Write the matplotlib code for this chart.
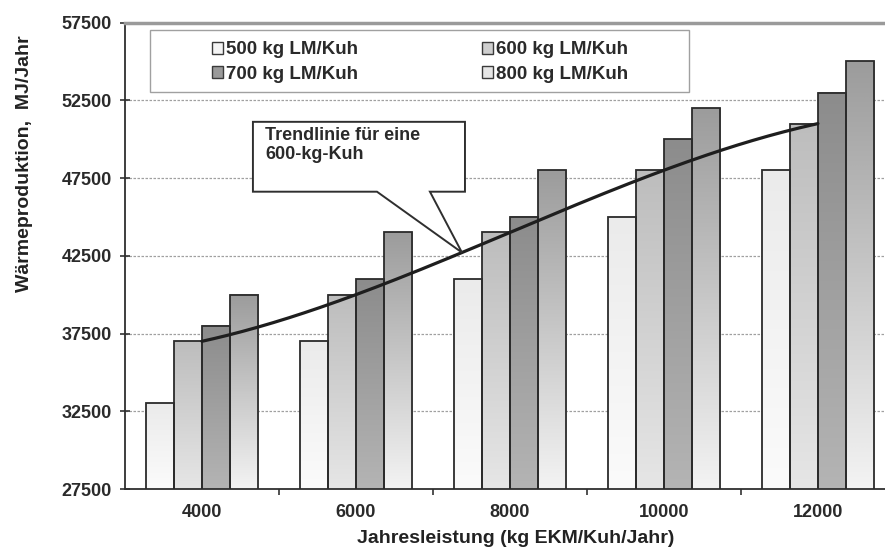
import numpy as np
import matplotlib
matplotlib.use("Agg")
import matplotlib.pyplot as plt
from matplotlib.colors import LinearSegmentedColormap
from matplotlib.patches import Patch, Rectangle, Polygon

plt.rcParams["font.family"] = ["Liberation Sans", "DejaVu Sans"]
plt.rcParams["font.weight"] = "bold"
plt.rcParams["axes.labelweight"] = "bold"

# Jahresleistung (kg EKM/Kuh/Jahr)
leistung = [4000, 6000, 8000, 10000, 12000]
# Wärmeproduktion in MJ/Jahr je Lebendmasse
lm500 = [33000, 37000, 41000, 45000, 48000]
lm600 = [37000, 40000, 44000, 48000, 51000]
lm700 = [38000, 41000, 45000, 50000, 53000]
lm800 = [40000, 44000, 48000, 52000, 55000]
series_labels = ["500 kg LM/Kuh", "600 kg LM/Kuh", "700 kg LM/Kuh", "800 kg LM/Kuh"]
y_ticks = [27500, 32500, 37500, 42500, 47500, 52500, 57500]

# gradient fill (top, bottom) and legend swatch colour per series
fills = [("#ebebeb", "#fbfbfb"), ("#bdbdbd", "#e6e6e6"),
         ("#8c8c8c", "#b4b4b4"), ("#9c9c9c", "#f3f3f3")]
swatch = ["#f4f4f4", "#cfcfcf", "#9a9a9a", "#e6e6e6"]

fig = plt.figure(figsize=(8.85, 5.51), dpi=100)
# plot area runs a little past the right edge of the figure
ax = fig.add_axes([0.1412, 0.1125, 0.870, 0.8466])

ymin, ymax = 27500, 57500
width = 364
offsets = [-1.5, -0.5, 0.5, 1.5]
grad = np.linspace(0, 1, 128).reshape(-1, 1)

for k, vals in enumerate([lm500, lm600, lm700, lm800]):
    cmap = LinearSegmentedColormap.from_list("f%d" % k, list(fills[k]))
    for x, v in zip(leistung, vals):
        x0 = x + offsets[k] * width - width / 2
        ax.imshow(grad, extent=[x0, x0 + width, ymin, v], origin="upper",
                  cmap=cmap, aspect="auto", interpolation="bilinear", zorder=2)
    ax.bar([x + offsets[k] * width for x in leistung], vals, width=width,
           fill=False, edgecolor="#2b2b2b", linewidth=1.3, zorder=3)

# polynomial trend line through the 600 kg series
coef = np.polyfit(leistung, lm600, 3)
xt = np.linspace(leistung[0], leistung[-1], 200)
ax.plot(xt, np.polyval(coef, xt), color="#1e1e1e", linewidth=2.3, zorder=4,
        solid_capstyle="round")

ax.set_xlim(3000, 13000)
ax.set_ylim(ymin, ymax)
ax.set_yticks(y_ticks)
ax.set_xticks(leistung)
ax.set_xticks([5000, 7000, 9000, 11000], minor=True)
ax.tick_params(axis="x", which="major", length=0, pad=11, labelsize=13,
               labelcolor="#2a2a2a")
ax.tick_params(axis="x", which="minor", length=4.5, width=1.2, direction="out",
               color="#333333")
ax.tick_params(axis="y", length=7, width=1.2, direction="inout", pad=6,
               labelsize=13, labelcolor="#2a2a2a", color="#333333")

for y in y_ticks[1:-1]:
    ax.axhline(y, color="#a0a0a0", linewidth=0.9, linestyle=(0, (2, 1.2)), zorder=1)

ax.spines["right"].set_visible(False)
ax.spines["top"].set_color("#9a9a9a")
ax.spines["top"].set_linewidth(2.5)
for s in ("left", "bottom"):
    ax.spines[s].set_color("#2f2f2f")
    ax.spines[s].set_linewidth(1.3)

ax.set_xlabel("Jahresleistung (kg EKM/Kuh/Jahr)", fontsize=14, color="#222222")
ax.xaxis.set_label_coords(0.507, -0.088)
ax.set_ylabel("Wärmeproduktion,  MJ/Jahr", fontsize=14, color="#222222")
ax.yaxis.set_label_coords(-0.119, 0.697)

# legend with its own frame
ax.add_patch(Rectangle((0.0325, 0.851), 0.70, 0.133, transform=ax.transAxes,
                       facecolor="white", edgecolor="#a0a0a0", linewidth=1.0,
                       zorder=5))
handles = [Patch(facecolor=swatch[k], edgecolor="#3a3a3a", linewidth=1.0,
                 label=series_labels[k]) for k in range(4)]
order = [0, 2, 1, 3]
leg = ax.legend([handles[i] for i in order], [series_labels[i] for i in order],
                ncol=2, loc="upper left", bbox_to_anchor=(0.101, 0.980),
                frameon=False, borderpad=0, handlelength=0.6, handleheight=0.6,
                handletextpad=0.15, columnspacing=6.6, labelspacing=0.4,
                prop={"size": 13.5, "weight": "bold"})
for t in leg.get_texts():
    t.set_color("#2a2a2a")
leg.set_zorder(6)

# callout for the trend line
bx0, bx1, by0, by1 = 4662, 7416, 46621, 51114
wx0, wx1, tip_x = 6273, 6961, 7377
tip_y = np.polyval(coef, tip_x)
ax.add_patch(Polygon([(bx0, by1), (bx1, by1), (bx1, by0), (wx1, by0),
                      (tip_x, tip_y), (wx0, by0), (bx0, by0)],
                     closed=True, facecolor="white", edgecolor="#2f2f2f",
                     linewidth=1.4, zorder=5))
ax.text(4818, 50800, "Trendlinie für eine\n600-kg-Kuh", fontsize=13,
        color="#2a2a2a", ha="left", va="top", zorder=6, linespacing=1.15)

fig.savefig("out.png", dpi=100)
